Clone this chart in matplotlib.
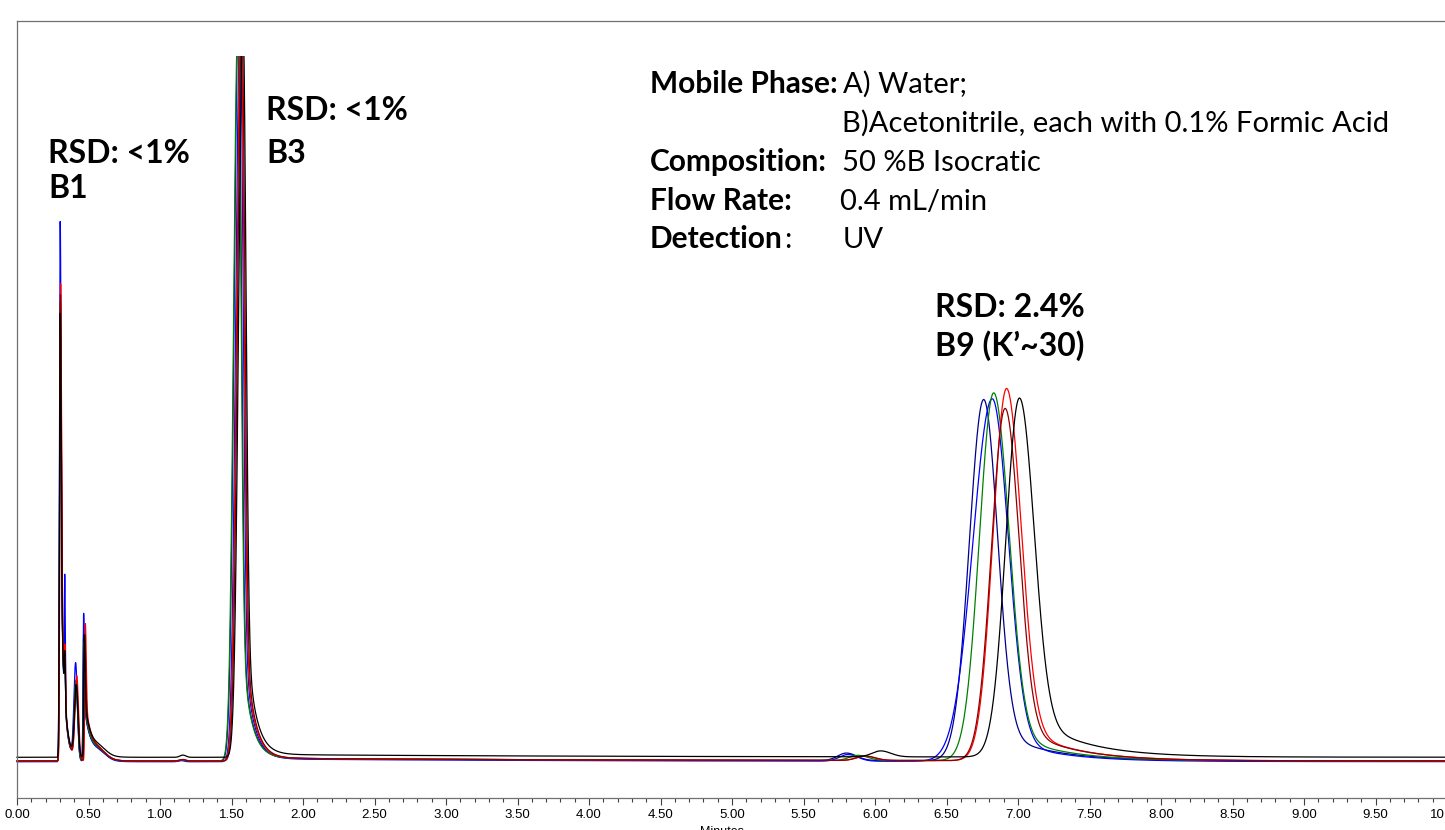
import numpy as np
import matplotlib
matplotlib.use('Agg')
import matplotlib.pyplot as plt
from matplotlib.patches import Rectangle

W, H = 1445, 830

# six injections (overlaid)
trace_colors = ['#00008B', '#0000FF', '#008000', '#FF0000', '#8B0000', '#000000']
baseline_offset = [0.000, -0.001, 0.000, 0.000, 0.000, 0.005]

# peak table: retention time (min), height, left/right width, tail height/width
# B1 (unretained) cluster
b1_time = [0.303, 0.302, 0.303, 0.305, 0.304, 0.302]
b1_height = [0.62, 0.73, 0.62, 0.645, 0.63, 0.60]
spike_time = [0.334, 0.334, 0.334, 0.336, 0.335, 0.334]
spike_height = [0.06, 0.17, 0.06, 0.07, 0.06, 0.06]
bump_time = [0.412, 0.410, 0.412, 0.418, 0.416, 0.414]
bump_height = [0.100, 0.130, 0.105, 0.112, 0.100, 0.095]
spike2_time = [0.466, 0.466, 0.468, 0.478, 0.474, 0.470]
spike2_height = [0.17, 0.20, 0.16, 0.185, 0.17, 0.165]
# B3
b3_time = [1.548, 1.560, 1.545, 1.566, 1.572, 1.580]
b3_height = [1.0, 1.0, 1.0, 1.0, 1.0, 1.0]
# small baseline bumps
blip_time = [1.15, 1.15, 1.15, 1.16, 1.16, 1.16]
blip_height = [0.0015, 0.0015, 0.0015, 0.002, 0.002, 0.003]
hump_time = [5.80, 5.81, 5.88, 5.93, 5.93, 6.04]
hump_height = [0.010, 0.009, 0.007, 0.006, 0.006, 0.008]
# B9 (k' ~ 30)
b9_time = [6.76, 6.82, 6.83, 6.92, 6.91, 7.01]
b9_height = [0.488, 0.490, 0.497, 0.503, 0.476, 0.485]
b9_sig_left = [0.100, 0.135, 0.100, 0.095, 0.095, 0.095]
b9_sig_right = [0.095, 0.110, 0.105, 0.100, 0.095, 0.100]
b9_tail = [0.05, 0.04, 0.05, 0.06, 0.06, 0.07]


def peak(t, t0, h, sl, sr, th=0.0, tw=1.0):
    dt = t - t0
    s = np.where(dt < 0, sl, sr)
    y = h * np.exp(-0.5 * (dt / s) ** 2)
    right = dt > 0
    y[right] += th * np.exp(-dt[right] / tw) * (1 - np.exp(-0.5 * (dt[right] / sr) ** 2))
    return y


t = np.linspace(0, 10, 20001)

fig = plt.figure(figsize=(W / 100, H / 100), dpi=100)
ax = fig.add_axes([17 / W, (H - 798) / H, 1430 / W, (798 - 21) / H])

clip = Rectangle((-1, -1), 12, 1.953, transform=ax.transData)

for i, c in enumerate(trace_colors):
    y = np.full_like(t, baseline_offset[i])
    y += peak(t, b1_time[i], b1_height[i], 0.005, 0.006, 0.30, 0.025)
    y += peak(t, spike_time[i], spike_height[i], 0.003, 0.004)
    y += peak(t, bump_time[i], bump_height[i], 0.012, 0.012)
    y += peak(t, spike2_time[i], spike2_height[i], 0.004, 0.006, 0.08, 0.05)
    y += peak(t, 0.58, 0.008, 0.04, 0.05)
    y += peak(t, b3_time[i], b3_height[i], 0.030, 0.020, 0.25, 0.06)
    y += peak(t, b3_time[i], 0.0, 0.03, 0.05, 0.004, 2.5)
    y += peak(t, blip_time[i], blip_height[i], 0.02, 0.02)
    y += peak(t, hump_time[i], hump_height[i], 0.06, 0.07)
    y += peak(t, b9_time[i], b9_height[i], b9_sig_left[i], b9_sig_right[i], b9_tail[i], 0.35)
    line, = ax.plot(t, y, color=c, lw=0.9)
    line.set_clip_path(clip)

ax.set_xlim(0, 10)
ax.set_ylim(-0.05, 1.0)
ax.set_xticks(np.arange(0, 10.01, 0.5))
ax.set_xticks(np.arange(0, 10.01, 0.1), minor=True)
ax.set_xticklabels(['%.2f' % v for v in np.arange(0, 10.01, 0.5)],
                   family=['Liberation Sans Narrow', 'Liberation Sans'], fontsize=9.5)
ax.tick_params(axis='x', which='major', length=5, width=0.8, color='#404040', pad=3)
ax.tick_params(axis='x', which='minor', length=3, width=0.8, color='#404040')
ax.set_yticks([])
for side in ['left', 'top', 'bottom']:
    ax.spines[side].set_color('#707070')
    ax.spines[side].set_linewidth(0.9)
ax.spines['right'].set_visible(False)


def ftext(x, y, s, size, bold=True):
    return fig.text(x / W, 1 - y / H, s, fontsize=size, family='Lato',
                    fontweight='bold' if bold else 'normal', va='baseline', ha='left')


ftext(48, 163, 'RSD: <1%', 23)
ftext(48, 198, 'B1', 23)
ftext(266, 120, 'RSD: <1%', 23)
ftext(266, 163, 'B3', 23)
ftext(935, 317, 'RSD: 2.4%', 23)
ftext(935, 356, 'B9 (K’~30)', 23)

ftext(650, 93, 'Mobile Phase:', 21.5)
ftext(843, 93, 'A) Water;', 21, False)
ftext(842, 132, 'B)Acetonitrile, each with 0.1% Formic Acid', 21, False)
ftext(650, 171, 'Composition:', 21.5)
ftext(842, 171, '50 %B Isocratic', 21, False)
ftext(650, 210, 'Flow Rate:', 21.5)
ftext(840, 210, '0.4 mL/min', 21, False)
det = ftext(650, 248, 'Detection', 21.5)
ftext(843, 248, 'UV', 21, False)

# regular colon right after the bold "Detection"
fig.canvas.draw()
bb = det.get_window_extent(fig.canvas.get_renderer())
fig.text(bb.x1 / W + 1 / W, 1 - 248 / H, ':', fontsize=21, family='Lato',
         va='baseline', ha='left')

fig.text(722 / W, 1 - 826 / H, 'Minutes', fontsize=9, ha='center', va='top',
         family=['Liberation Sans Narrow', 'Liberation Sans'])

fig.savefig('out.png', dpi=100)
